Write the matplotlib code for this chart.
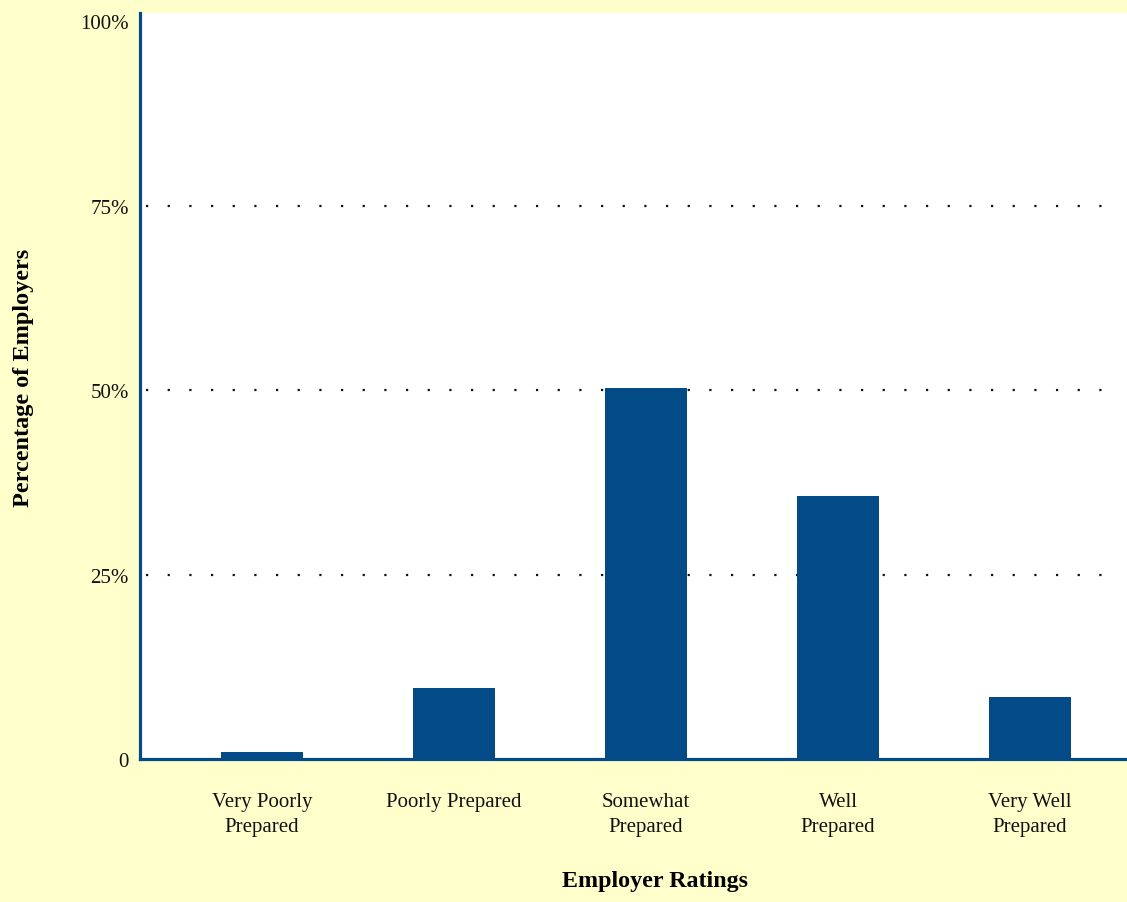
import matplotlib
matplotlib.use('Agg')
import matplotlib.pyplot as plt

# data
categories = ['Very Poorly\nPrepared', 'Poorly Prepared', 'Somewhat\nPrepared',
              'Well\nPrepared', 'Very Well\nPrepared']
percentages = [1.0, 9.6, 50.3, 35.6, 8.4]
ytick_values = [0, 25, 50, 75, 100]
ytick_labels = ['0', '25%', '50%', '75%', '100%']

bg = '#FFFFCC'
blue = '#024B87'

plt.rcParams['font.family'] = ['Liberation Serif', 'DejaVu Serif']
plt.rcParams['lines.scale_dashes'] = False

fig = plt.figure(figsize=(11.27, 9.03), dpi=100)
fig.patch.set_facecolor(bg)
ax = fig.add_axes([0.1242, 0.1584, 0.8758, 0.8261])
ax.set_facecolor('white')

x = range(len(categories))
ax.bar(x, percentages, width=0.427, color=blue, zorder=3)

ax.set_xlim(-0.635, 4.505)
ax.set_ylim(0, 101.1)
ax.set_yticks(ytick_values)
ax.set_yticklabels(ytick_labels)
ax.set_xticks(list(x))
ax.set_xticklabels(categories, linespacing=1.4)

ax.tick_params(axis='both', length=0, labelsize=15, colors='#111111')
ax.tick_params(axis='y', pad=8)
ax.tick_params(axis='x', pad=24)

# dotted gridlines behind the bars
for v in ytick_values[1:4]:
    ax.axhline(v, xmax=0.987, color='#111111', linestyle=(11.3, (1.6, 14)),
               linewidth=1.6, zorder=1)

for side in ['top', 'right']:
    ax.spines[side].set_visible(False)
for side in ['left', 'bottom']:
    ax.spines[side].set_color(blue)
    ax.spines[side].set_linewidth(2.3)
    ax.spines[side].set_zorder(4)

fig.text(0.581, 0.012, 'Employer Ratings', ha='center', va='bottom',
         fontsize=17.3, fontweight='bold')
fig.text(0.021, 0.581, 'Percentage of Employers', ha='center', va='center',
         rotation=90, fontsize=17.5, fontweight='bold')

plt.savefig('out.png', dpi=100, facecolor=bg)
